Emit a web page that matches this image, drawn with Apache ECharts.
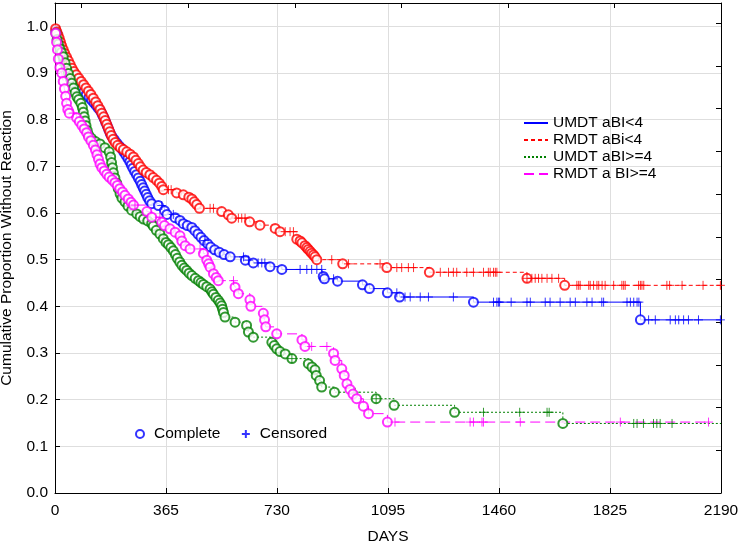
<!DOCTYPE html>
<html><head><meta charset="utf-8">
<script src="https://cdn.jsdelivr.net/npm/echarts@6/dist/echarts.min.js"></script>
<style>html,body{margin:0;padding:0;background:#fff}#c{width:740px;height:544px}</style>
</head><body><div id="c"></div><script>
// Tick values
const xTickValues = [0, 365, 730, 1095, 1460, 1825, 2190];
const yTickValues = [0, 0.1, 0.2, 0.3, 0.4, 0.5, 0.6, 0.7, 0.8, 0.9, 1.0];

// Group names (legend)
const groupNames = ['UMDT aBI<4', 'RMDT aBi<4', 'UMDT aBI>=4', 'RMDT a BI>=4'];

// Each entry: [day, cumulative proportion, mark]  mark: 'o' complete, '+' censored, 'o+' both, '' none
const umdtLow = [
 [0,1.0,''],[3,0.990,'o'],[8,0.982,'o'],[12,0.972,'o'],[16,0.962,'o'],[20,0.950,'o'],[25,0.938,'o'],[30,0.926,'o'],[36,0.916,'o'],[42,0.908,'o'],[50,0.900,'o'],[57,0.894,'o'],[64,0.886,'o'],[72,0.878,'o'],[80,0.872,'o'],[88,0.866,'o'],[95,0.860,'o'],[103,0.854,'o'],[112,0.848,'o'],[120,0.842,'o'],[128,0.836,'o'],[136,0.830,'o'],[143,0.824,'o'],[150,0.818,'o'],[156,0.810,'o'],[162,0.802,'o'],[167,0.794,'o'],[172,0.786,'o'],[177,0.778,'o'],[182,0.770,'o'],[188,0.763,'o'],[195,0.757,'o'],[203,0.750,'o'],[211,0.744,'o'],[219,0.738,'o'],[226,0.731,'o'],[233,0.724,'o'],[240,0.717,'o'],[246,0.710,'o'],[251,0.703,'o'],[256,0.696,'o'],[262,0.689,'o'],[268,0.682,'o'],[274,0.675,'o'],[280,0.668,'o'],[285,0.661,'o'],[290,0.654,'o'],[295,0.647,'o'],[300,0.640,'o'],[305,0.633,'o'],[311,0.626,'o'],[318,0.620,'o'],[340,0.616,'o'],[351,0.616,'+'],[360,0.605,'o'],[368,0.597,'o'],[389,0.597,'+'],[395,0.590,'o'],[411,0.584,'o'],[422,0.577,'o'],[435,0.573,'o'],[450,0.569,'o'],[460,0.562,'o'],[470,0.555,'o'],[480,0.548,'o'],[490,0.541,'o'],[493,0.541,'+'],[502,0.534,'o'],[512,0.527,'o'],[525,0.521,'o'],[540,0.516,'o'],[556,0.511,'o'],[576,0.506,'o'],[620,0.506,'+'],[626,0.499,'o'],[636,0.499,'+'],[652,0.493,'o'],[668,0.493,'+'],[680,0.493,'+'],[690,0.493,'+'],[707,0.485,'o'],[746,0.479,'o'],[806,0.479,'+'],[828,0.479,'+'],[844,0.479,'+'],[861,0.479,'+'],[877,0.479,'+'],[882,0.464,'o'],[886,0.459,'o'],[916,0.459,'+'],[929,0.454,'o'],[1011,0.446,'o'],[1034,0.438,'o'],[1093,0.429,'o'],[1124,0.429,'+'],[1133,0.420,'o'],[1151,0.420,'+'],[1168,0.420,'+'],[1201,0.420,'+'],[1228,0.420,'+'],[1310,0.420,'+'],[1376,0.409,'o'],[1442,0.409,'+'],[1453,0.409,'+'],[1458,0.409,'+'],[1462,0.409,'+'],[1500,0.409,'+'],[1552,0.409,'+'],[1563,0.409,'+'],[1612,0.409,'+'],[1628,0.409,'+'],[1661,0.409,'+'],[1694,0.409,'+'],[1711,0.409,'+'],[1749,0.409,'+'],[1766,0.409,'+'],[1798,0.409,'+'],[1804,0.409,'+'],[1881,0.409,'+'],[1892,0.409,'+'],[1903,0.409,'+'],[1914,0.409,'+'],[1920,0.409,'+'],[1925,0.371,'o'],[1952,0.371,'+'],[1974,0.371,'+'],[2023,0.371,'+'],[2040,0.371,'+'],[2051,0.371,'+'],[2067,0.371,'+'],[2083,0.371,'+'],[2116,0.371,'+'],[2188,0.371,'+']
];
const rmdtLow = [
 [0,1.0,''],[2,0.995,'o'],[6,0.988,'o'],[10,0.981,'o'],[14,0.974,'o'],[18,0.966,'o'],[22,0.958,'o'],[27,0.950,'o'],[32,0.942,'o'],[38,0.934,'o'],[44,0.926,'o'],[50,0.918,'o'],[56,0.910,'o'],[62,0.903,'o'],[70,0.896,'o'],[78,0.889,'o'],[86,0.882,'o'],[94,0.875,'o'],[102,0.868,'o'],[110,0.861,'o'],[118,0.854,'o'],[126,0.846,'o'],[134,0.838,'o'],[141,0.830,'o'],[148,0.822,'o'],[154,0.814,'o'],[160,0.806,'o'],[165,0.798,'o'],[170,0.790,'o'],[175,0.782,'o'],[180,0.774,'o'],[185,0.766,'o'],[191,0.758,'o'],[198,0.751,'o'],[206,0.745,'o'],[215,0.740,'o'],[225,0.736,'o'],[236,0.731,'o'],[247,0.726,'o'],[258,0.720,'o'],[266,0.713,'o'],[274,0.706,'o'],[281,0.699,'o'],[290,0.692,'o'],[300,0.687,'o'],[312,0.682,'o'],[323,0.676,'o'],[334,0.670,'o'],[343,0.664,'o'],[351,0.657,'o'],[356,0.650,'o'],[373,0.650,'+'],[382,0.650,'+'],[400,0.643,'o'],[422,0.639,'o'],[440,0.634,'o'],[450,0.630,'o'],[458,0.624,'o'],[466,0.618,'o'],[475,0.610,'o'],[510,0.610,'+'],[521,0.610,'+'],[548,0.603,'o'],[570,0.596,'o'],[581,0.589,'o'],[603,0.589,'+'],[614,0.589,'+'],[625,0.589,'+'],[640,0.581,'o'],[674,0.574,'o'],[724,0.567,'o'],[740,0.560,'o'],[757,0.560,'+'],[773,0.560,'+'],[784,0.560,'+'],[795,0.544,'o'],[806,0.540,'o'],[812,0.536,'o'],[822,0.530,'o'],[828,0.526,'o'],[833,0.522,'o'],[839,0.518,'o'],[844,0.514,'o'],[850,0.510,'o'],[855,0.506,'o'],[861,0.500,'o'],[910,0.500,'+'],[946,0.491,'o'],[965,0.491,'+'],[1069,0.491,'+'],[1091,0.483,'o'],[1124,0.483,'+'],[1140,0.483,'+'],[1162,0.483,'+'],[1179,0.483,'+'],[1231,0.473,'o'],[1267,0.473,'+'],[1294,0.473,'+'],[1310,0.473,'+'],[1321,0.473,'+'],[1354,0.473,'+'],[1376,0.473,'+'],[1409,0.473,'+'],[1425,0.473,'+'],[1431,0.473,'+'],[1442,0.473,'+'],[1448,0.473,'+'],[1453,0.473,'+'],[1552,0.460,'o+'],[1568,0.460,'+'],[1579,0.460,'+'],[1590,0.460,'+'],[1601,0.460,'+'],[1618,0.460,'+'],[1634,0.460,'+'],[1656,0.460,'+'],[1676,0.445,'o'],[1716,0.445,'+'],[1722,0.445,'+'],[1727,0.445,'+'],[1755,0.445,'+'],[1760,0.445,'+'],[1771,0.445,'+'],[1782,0.445,'+'],[1788,0.445,'+'],[1799,0.445,'+'],[1809,0.445,'+'],[1837,0.445,'+'],[1864,0.445,'+'],[1870,0.445,'+'],[1875,0.445,'+'],[1919,0.445,'+'],[1925,0.445,'+'],[1930,0.445,'+'],[1936,0.445,'+'],[2012,0.445,'+'],[2021,0.445,'+'],[2062,0.445,'+'],[2131,0.445,'+'],[2188,0.445,'+']
];
const umdtHigh = [
 [0,1.0,''],[3,0.985,'o'],[7,0.972,'o'],[11,0.962,'o'],[16,0.952,'o'],[21,0.944,'o'],[27,0.935,'o'],[33,0.922,'o'],[38,0.910,'o'],[44,0.899,'o'],[50,0.888,'o'],[55,0.878,'o'],[61,0.868,'o'],[66,0.858,'o'],[72,0.849,'o'],[78,0.843,'o'],[85,0.835,'o'],[90,0.826,'o'],[93,0.816,'o'],[96,0.806,'o'],[99,0.797,'o'],[102,0.787,'o'],[106,0.777,'o'],[110,0.768,'o'],[120,0.760,'o'],[133,0.753,'o'],[148,0.748,'o'],[164,0.740,'o'],[178,0.731,'o'],[183,0.720,'o'],[186,0.708,'o'],[189,0.697,'o'],[192,0.686,'o'],[197,0.675,'o'],[203,0.664,'o'],[208,0.652,'o'],[214,0.641,'o'],[220,0.632,'o'],[230,0.624,'o'],[240,0.615,'o'],[252,0.606,'o'],[269,0.598,'o'],[280,0.592,'o'],[291,0.587,'o'],[305,0.583,'o'],[318,0.577,'o'],[323,0.572,'o'],[333,0.563,'o'],[345,0.555,'o'],[356,0.545,'o'],[365,0.537,'o'],[373,0.532,'o'],[381,0.526,'o'],[389,0.519,'o'],[396,0.511,'o'],[402,0.503,'o'],[410,0.495,'o'],[417,0.488,'o'],[425,0.482,'o'],[433,0.477,'o'],[441,0.471,'o'],[450,0.466,'o'],[461,0.460,'o'],[472,0.455,'o'],[480,0.451,'o'],[488,0.447,'o'],[499,0.442,'o'],[510,0.437,'o'],[516,0.431,'o'],[521,0.426,'o'],[529,0.419,'o'],[537,0.413,'o'],[543,0.407,'o'],[548,0.401,'o'],[551,0.394,'o'],[554,0.387,'o'],[559,0.377,'o'],[592,0.366,'o'],[630,0.359,'o'],[636,0.345,'o'],[652,0.334,'o'],[713,0.323,'o'],[721,0.316,'o'],[729,0.309,'o'],[740,0.303,'o'],[757,0.298,'o'],[779,0.288,'o+'],[833,0.277,'o'],[845,0.270,'o'],[855,0.264,'o'],[859,0.252,'o'],[870,0.241,'o'],[877,0.227,'o'],[919,0.216,'o'],[987,0.216,'+'],[1056,0.202,'o+'],[1115,0.188,'o'],[1314,0.173,'o'],[1409,0.173,'+'],[1528,0.173,'+'],[1618,0.173,'+'],[1625,0.173,'+'],[1670,0.149,'o'],[1903,0.149,'+'],[1914,0.149,'+'],[1935,0.149,'+'],[1968,0.149,'+'],[1979,0.149,'+'],[1990,0.149,'+'],[2029,0.149,'+'],[2190,0.149,'']
];
const rmdtHigh = [
 [0,1.0,''],[2,0.985,'o'],[5,0.966,'o'],[8,0.950,'o'],[11,0.930,'o'],[16,0.912,'o'],[22,0.900,'o'],[27,0.882,'o'],[31,0.866,'o'],[35,0.850,'o'],[38,0.835,'o'],[42,0.822,'o'],[47,0.814,'o'],[60,0.814,'+'],[71,0.804,'o'],[80,0.796,'o'],[88,0.788,'o'],[96,0.780,'o'],[104,0.772,'o'],[110,0.763,'o'],[118,0.755,'o'],[126,0.745,'o'],[133,0.735,'o'],[138,0.725,'o'],[143,0.715,'o'],[148,0.705,'o'],[154,0.697,'o'],[162,0.690,'o'],[170,0.683,'o'],[178,0.677,'o'],[188,0.671,'o'],[197,0.665,'o'],[205,0.659,'o'],[213,0.652,'o'],[222,0.645,'o'],[230,0.638,'o'],[241,0.630,'o'],[250,0.623,'o'],[258,0.617,'o'],[263,0.617,'+'],[302,0.603,'o'],[318,0.591,'o'],[345,0.591,'+'],[351,0.580,'o'],[360,0.573,'o'],[378,0.566,'o'],[395,0.559,'o'],[411,0.551,'o'],[417,0.540,'o'],[428,0.530,'o'],[444,0.523,'o'],[477,0.523,'+'],[488,0.513,'o'],[499,0.499,'o'],[505,0.491,'o'],[510,0.484,'o'],[521,0.470,'o'],[530,0.462,'o'],[537,0.455,'o'],[587,0.455,'+'],[592,0.441,'o'],[603,0.427,'o'],[641,0.414,'o'],[644,0.400,'o'],[685,0.385,'o'],[689,0.371,'o'],[693,0.356,'o'],[729,0.341,'o'],[812,0.328,'o'],[822,0.314,'o'],[844,0.314,'+'],[894,0.314,'+'],[916,0.299,'o'],[921,0.284,'o'],[943,0.266,'o'],[951,0.252,'o'],[960,0.234,'o'],[970,0.222,'o'],[980,0.212,'o'],[992,0.202,'o'],[1014,0.186,'o'],[1031,0.170,'o'],[1093,0.152,'o'],[1118,0.152,'+'],[1365,0.152,'+'],[1376,0.152,'+'],[1404,0.152,'+'],[1409,0.152,'+'],[1530,0.152,'+'],[1859,0.152,'+'],[2149,0.152,'+']
];

const groupData = [umdtLow, rmdtLow, umdtHigh, rmdtHigh];
const groupColors = ['#0000FF', '#FF0000', '#008000', '#FF00FF'];
const groupDash = ['solid', [4, 3], [2, 2], [10, 5]];
const plusPath = 'path://M5,0V10M0,5H10';
const FONT = "'Liberation Sans', Arial, sans-serif";
const FS = 15.5;

const series = [];
groupData.forEach((g, i) => {
  series.push({
    name: groupNames[i], type: 'line', step: 'end', symbol: 'none',
    data: g.map(p => [p[0], p[1]]),
    lineStyle: { color: groupColors[i], width: 1, type: groupDash[i] },
    itemStyle: { color: groupColors[i] },
    z: 2, silent: true
  });
});
groupData.forEach((g, i) => {
  series.push({
    name: 'Complete', type: 'scatter', symbol: 'emptyCircle', symbolSize: 9,
    data: g.filter(p => p[2].indexOf('o') >= 0).map(p => [p[0], p[1]]),
    itemStyle: { color: groupColors[i], borderColor: groupColors[i], borderWidth: 1 },
    z: 3, silent: true
  });
  series.push({
    name: 'Censored', type: 'scatter', symbol: plusPath, symbolSize: 9,
    data: g.filter(p => p[2].indexOf('+') >= 0).map(p => [p[0], p[1]]),
    itemStyle: { color: 'none', borderColor: groupColors[i], borderWidth: 1 },
    z: 3, silent: true
  });
});

const chart = echarts.init(document.getElementById('c'), null, { renderer: 'canvas' });
chart.setOption({
  animation: false,
  backgroundColor: '#fff',
  textStyle: { fontFamily: FONT },
  grid: { left: 55, right: 19, top: 3, bottom: 51, containLabel: false, outerBoundsMode: 'none' },
  xAxis: [{
    type: 'value', min: xTickValues[0], max: xTickValues[xTickValues.length - 1], interval: 365,
    position: 'bottom',
    name: 'DAYS', nameLocation: 'middle', nameGap: 36,
    nameTextStyle: { color: '#000', fontSize: FS, fontFamily: FONT },
    axisLine: { show: true, lineStyle: { color: '#000', width: 1 } },
    axisTick: { show: true, inside: true, length: 5, lineStyle: { color: '#000' } },
    axisLabel: { color: '#000', fontSize: FS, fontFamily: FONT, margin: 10, formatter: v => String(v) },
    splitLine: { show: true, lineStyle: { color: '#dedede', width: 1 } }
  }, {
    type: 'value', position: 'top', inverse: true, min: 0, max: 6.25, interval: 1,
    axisLine: { show: true, onZero: false, lineStyle: { color: '#000', width: 1 } },
    axisTick: { show: true, inside: true, length: 5, lineStyle: { color: '#000' } },
    axisLabel: { show: false }, splitLine: { show: false }
  }],
  yAxis: [{
    type: 'value', min: 0, max: 1.05, interval: 0.1,
    name: 'Cumulative Proportion Without Reaction', nameLocation: 'middle', nameGap: 40, nameRotate: 90,
    nameTextStyle: { color: '#000', fontSize: FS, fontFamily: FONT },
    axisLine: { show: true, lineStyle: { color: '#000', width: 1 } },
    axisTick: { show: true, inside: true, length: 5, lineStyle: { color: '#000' } },
    axisLabel: { color: '#000', fontSize: FS, fontFamily: FONT, margin: 7,
      formatter: v => (v > 1.0001 ? '' : v.toFixed(1)) },
    splitLine: { show: true, lineStyle: { color: '#dedede', width: 1 } }
  }, {
    type: 'value', position: 'right', min: 0, max: 11.475, interval: 1,
    axisLine: { show: true, onZero: false, lineStyle: { color: '#000', width: 1 } },
    axisTick: { show: true, inside: true, length: 5, lineStyle: { color: '#000' } },
    axisLabel: { show: false }, splitLine: { show: false }
  }],
  legend: [{
    data: groupNames, orient: 'vertical', left: 523, top: 115, padding: 0,
    itemWidth: 24, itemHeight: 14, itemGap: 1, selectedMode: false,
    itemStyle: { opacity: 0 },
    textStyle: { color: '#000', fontSize: FS, fontFamily: FONT, lineHeight: 15 }
  }, {
    data: [{ name: 'Complete', icon: 'emptyCircle' }, { name: 'Censored', icon: plusPath }],
    orient: 'horizontal', left: 135, top: 426, padding: 0,
    itemWidth: 18, itemHeight: 8, itemGap: 19, selectedMode: false,
    textStyle: { color: '#000', fontSize: FS, fontFamily: FONT, lineHeight: 15 }
  }],
  series: series
});
</script></body></html>
